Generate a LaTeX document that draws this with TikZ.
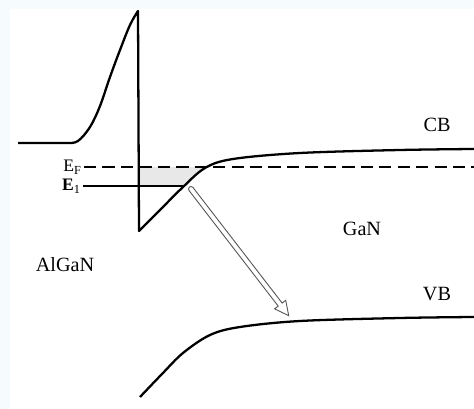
\documentclass[tikz,border=0pt]{standalone}
\usepackage{fontspec}
\setmainfont{Liberation Serif}
\usetikzlibrary{positioning}

\definecolor{paper}{RGB}{246,251,254}

% conduction band edge on the GaN side
\newcommand\cbcurve{plot[smooth, tension=0.55] coordinates {(139,178) (160,199) (182,221) (205,241) (233,250) (300,256) (400,259) (474,260)}}

\begin{document}
\begin{tikzpicture}[
    x=0.02cm, y=0.02cm,
    font=\fontsize{11.5}{13}\selectfont,
    band/.style={line width=1.3pt, line join=round},
    level/.style={line width=0.7pt},
    fermi/.style={line width=1pt, dash pattern=on 7pt off 3.5pt},
    lbl/.style={inner sep=1pt},
    elbl/.style={inner sep=1pt, anchor=east, font=\fontsize{10}{11}\selectfont},
    hollow/.style={draw=gray!65!black, line width=0.5pt, fill=white}
]
\useasboundingbox (0,0) rectangle (474,409);
\fill[paper] (0,0) rectangle (474,409);
\fill[white] (10,0) rectangle (474,400);

% electrons in the well
\begin{scope}
  \clip \cbcurve -- (474,409) -- (139,409) -- cycle;
  \fill[gray!18] (140,223) rectangle (474,242);
\end{scope}

\node[elbl] (ef) at (84,242) {E\textsubscript{F}};
\node[elbl] (e1) at (83,223) {\textbf{E}\textsubscript{1}};
\coordinate (efend) at (474,242);
\coordinate (e1end) at (184,223);

\draw[fermi] (ef.east) -- (efend);
\draw[level] (e1.east) -- (e1end);

% AlGaN barrier, spike and GaN conduction band
\draw[band] (18,266) -- (68,266)
  -- plot[smooth, tension=0.6] coordinates {(68,266) (78,268) (90,282) (100,303) (110,332) (120,359) (130,384) (138,398)}
  -- (139,178)
  -- plot[smooth, tension=0.55] coordinates {(139,178) (160,199) (182,221) (205,241) (233,250) (300,256) (400,259) (474,260)};

% valence band
\draw[band] plot[smooth, tension=0.55] coordinates {(140,12) (162,35) (183,56) (210,74) (240,82) (300,88) (400,91) (474,92)};

\node[lbl] (cb) at (437,284) {CB};
\node[lbl] (gan) at (362,180) {GaN};
\node[lbl] (algan) at (65,144) {AlGaN};
\node[lbl] (vb) at (437,115) {VB};

% hollow arrow
\coordinate (arrtail) at (191,220);
\begin{scope}[shift={(arrtail)}, rotate=-52.35]
  \draw[hollow] (0,2.5) -- (146,2.5) -- (146,7) -- (160,0) -- (146,-7) -- (146,-2.5) -- (0,-2.5)
    arc[start angle=270, end angle=90, radius=2.5] -- cycle;
\end{scope}

\end{tikzpicture}
\end{document}
